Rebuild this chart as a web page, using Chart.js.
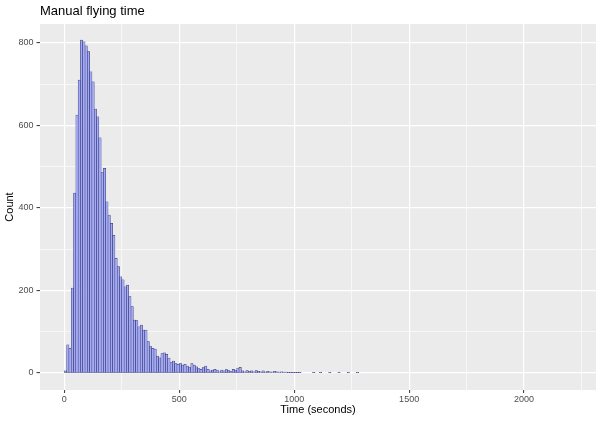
<!DOCTYPE html>
<html>
<head>
<meta charset="utf-8">
<script src="https://cdn.jsdelivr.net/npm/chart.js@4.4.1/dist/chart.umd.min.js"></script>
<style>
  html, body { margin: 0; padding: 0; background: #fff; }
  #wrap { width: 600px; height: 423px; }
</style>
</head>
<body>
<div id="wrap"><canvas id="hist" width="600" height="423"></canvas></div>
<script>
const chartTitle = 'Manual flying time';
const xTitle = 'Time (seconds)';
const yTitle = 'Count';

// histogram, 10 second bins starting at 0
const binWidth = 10;
const counts = [
    5, 68, 60, 206, 436, 625, 710, 807, 803, 793,
    779, 730, 706, 640, 621, 570, 486, 496, 415, 383,
    363, 334, 278, 258, 233, 226, 209, 213, 185, 161,
    128, 127, 112, 116, 104, 104, 76, 64, 60, 58,
    41, 37, 47, 49, 45, 36, 25, 29, 23, 21,
    23, 19, 21, 17, 13, 23, 19, 15, 11, 9,
    13, 17, 9, 5, 7, 9, 7, 3, 7, 5,
    8, 6, 4, 9, 6, 12, 14, 5, 3, 6,
    4, 5, 3, 6, 4, 3, 5, 2, 4, 3,
    2, 4, 3, 2, 3, 2, 2, 1, 1, 1,
    1, 1, 1, 0, 0, 0, 0, 0, 1, 0,
    0, 1, 0, 0, 0, 1, 0, 0, 0, 1,
    0, 0, 0, 1, 0, 0, 0, 1
];

const xTicks = [0, 500, 1000, 1500, 2000];
const xMinor = [250, 750, 1250, 1750, 2250];
const yTicks = [0, 200, 400, 600, 800];
const yMinor = [100, 300, 500, 700];

Chart.defaults.font.family = "'Liberation Sans', Arial, sans-serif";

const points = counts.map((c, i) => ({ x: i * binWidth + binWidth / 2, y: c }));

// grey ggplot-like panel
const panelBg = {
    id: 'panelBg',
    beforeDraw(chart) {
        const { ctx, chartArea: a } = chart;
        ctx.save();
        ctx.fillStyle = '#EBEBEB';
        ctx.fillRect(a.left, a.top, a.right - a.left, a.bottom - a.top);
        ctx.restore();
    }
};

const allX = [...xTicks, ...xMinor].sort((a, b) => a - b);
const allY = [...yTicks, ...yMinor].sort((a, b) => a - b);

const isMajor = (c, list) => !!(c.tick && list.includes(c.tick.value));

new Chart(document.getElementById('hist'), {
    type: 'bar',
    data: {
        datasets: [{
            data: points,
            backgroundColor: '#a4abf0',
            borderColor: '#23236e',
            borderWidth: 0.5,
            borderSkipped: false,
            barPercentage: 1,
            categoryPercentage: 1
        }]
    },
    options: {
        responsive: false,
        animation: false,
        layout: { padding: { left: 0, right: 4, top: 0, bottom: 0 } },
        plugins: {
            legend: { display: false },
            tooltip: { enabled: false },
            title: {
                display: true,
                text: chartTitle,
                align: 'start',
                fullSize: false,
                color: '#000',
                font: { size: 13, weight: 'normal' },
                padding: { top: 4, bottom: 4.4 }
            }
        },
        scales: {
            x: {
                type: 'linear',
                offset: false,
                min: -106,
                max: 2313,
                afterBuildTicks: s => { s.ticks = allX.map(v => ({ value: v })); },
                afterFit: s => { s.height = 33; },
                border: { display: false },
                grid: {
                    offset: false,
                    color: '#ffffff',
                    lineWidth: c => isMajor(c, xTicks) ? 1.2 : 0.6,
                    tickColor: c => isMajor(c, xTicks) ? '#333333' : 'rgba(0,0,0,0)',
                    tickLength: 3,
                    tickWidth: 1
                },
                ticks: {
                    callback: v => xTicks.includes(v) ? String(v) : '',
                    color: '#4D4D4D',
                    font: { size: 9 },
                    padding: 1,
                    maxRotation: 0,
                    autoSkip: false
                },
                title: {
                    display: true,
                    text: xTitle,
                    color: '#000',
                    font: { size: 11 },
                    padding: { top: 0, bottom: 6 }
                }
            },
            y: {
                min: -41.2,
                max: 846,
                afterBuildTicks: s => { s.ticks = allY.map(v => ({ value: v })); },
                afterFit: s => { s.width = 40; },
                border: { display: false },
                grid: {
                    color: '#ffffff',
                    lineWidth: c => isMajor(c, yTicks) ? 1.2 : 0.6,
                    tickColor: c => isMajor(c, yTicks) ? '#333333' : 'rgba(0,0,0,0)',
                    tickLength: 3.5,
                    tickWidth: 1
                },
                ticks: {
                    callback: v => yTicks.includes(v) ? String(v) : '',
                    color: '#4D4D4D',
                    font: { size: 9 },
                    padding: 3,
                    autoSkip: false
                },
                title: {
                    display: true,
                    text: yTitle,
                    color: '#000',
                    font: { size: 11 },
                    padding: { top: 3.5, bottom: 0 }
                }
            }
        }
    },
    plugins: [panelBg]
});
</script>
</body>
</html>
